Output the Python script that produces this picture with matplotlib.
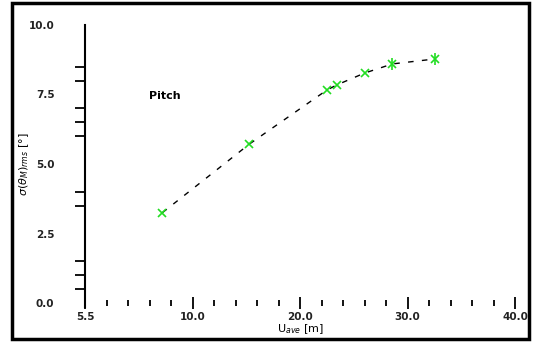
import matplotlib
matplotlib.use("Agg")
import matplotlib.pyplot as plt
from matplotlib.patches import Rectangle

# values
U_AVE = [7.2, 15.3, 22.5, 23.4, 26.0, 28.6, 32.6]
PITCH_RMS = [3.25, 5.72, 7.66, 7.84, 8.27, 8.60, 8.78]
STAR_FROM = 5  # last two points drawn as '*'

X_MAJOR = [0, 10, 20, 30, 40]
X_LABELS = ["5.5", "10.0", "20.0", "30.0", "40.0"]
X_MINOR = [2, 4, 6, 8, 12, 14, 16, 18, 22, 24, 26, 28, 32, 34, 36, 38]
Y_MAJOR = [0, 2.5, 5.0, 7.5, 10.0]
Y_LABELS = ["0.0", "2.5", "5.0", "7.5", "10.0"]
Y_MINOR = [0.5, 1.0, 1.5, 3.5, 4.0, 6.0, 6.5, 7.0, 8.0, 8.5]

W, H = 541, 342
fig = plt.figure(figsize=(W / 100, H / 100), dpi=100)
fig.patch.set_facecolor("white")
fig.add_artist(Rectangle((12 / W, 3 / H), 517 / W, 336 / H, transform=fig.transFigure,
                         fill=False, edgecolor="black", linewidth=2.5))

ax = fig.add_axes([85 / W, 1 - 303 / H, 430 / W, 278 / H])
ax.set_xlim(0, 40)
ax.set_ylim(0, 10)
for side in ("top", "right", "bottom"):
    ax.spines[side].set_visible(False)
ax.spines["left"].set_linewidth(1.5)
ax.spines["left"].set_bounds(-0.15, 10)

green = "#22dd22"
ax.plot(U_AVE, PITCH_RMS, color="black", linewidth=1.0, linestyle=(0, (4, 6)))
ax.plot(U_AVE, PITCH_RMS, linestyle="none", marker="x",
        markersize=6, markeredgewidth=1.2, color=green)
ax.plot(U_AVE[STAR_FROM:], PITCH_RMS[STAR_FROM:], linestyle="none", marker="|",
        markersize=9, markeredgewidth=1.2, color=green)

ax.set_xticks(X_MAJOR)
ax.set_xticklabels(X_LABELS)
ax.set_xticks(X_MINOR, minor=True)
ax.set_yticks(Y_MAJOR)
ax.set_yticklabels(Y_LABELS)
ax.set_yticks(Y_MINOR, minor=True)
ax.tick_params(axis="x", which="major", direction="inout", length=9, width=1.3,
               pad=2, labelsize=7.5)
ax.tick_params(axis="x", which="minor", direction="inout", length=5, width=1.3)
ax.tick_params(axis="y", which="major", length=0, pad=22, labelsize=7.5)
ax.tick_params(axis="y", which="minor", direction="out", length=7, width=1.3)
for lab in ax.get_xticklabels() + ax.get_yticklabels():
    lab.set_fontweight("bold")
    lab.set_color("#222222")

ax.text(6.0, 7.35, "Pitch", fontsize=8, fontweight="bold")
ax.set_xlabel("U$_{ave}$ [m]", fontsize=8, labelpad=0)
ax.set_ylabel(r"$\sigma(\theta_M)_{rms}$ [°]", fontsize=8, labelpad=-2)

fig.savefig("out.png", dpi=100)
